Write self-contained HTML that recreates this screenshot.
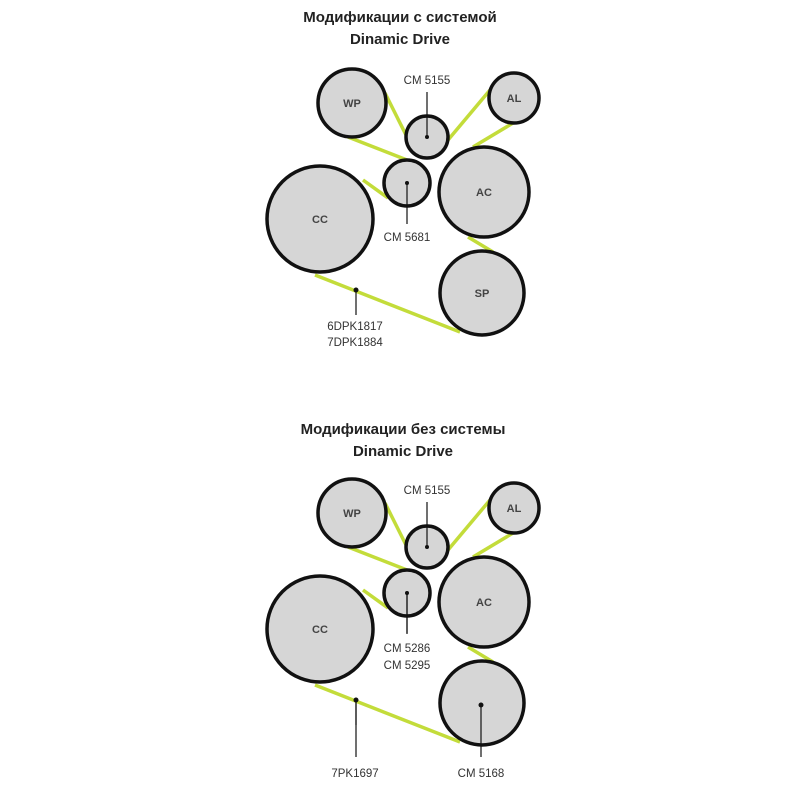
<!DOCTYPE html>
<html><head><meta charset="utf-8"><style>
html,body{margin:0;padding:0;background:#fff;}
svg{display:block;}
text{font-family:"Liberation Sans",sans-serif;fill:#333;}
.t{font-weight:bold;font-size:15px;fill:#222;}
.n{font-size:11px;font-weight:bold;fill:#444;}
.l{font-size:11.5px;fill:#333;}
.b{stroke:#c3dc3a;stroke-width:3.5;}
.c{fill:#d6d6d6;stroke:#111;stroke-width:3.5;}
.k{stroke:#111;stroke-width:1.2;}
</style></head><body>
<svg width="800" height="800" viewBox="0 0 800 800">
<text class="t" x="400" y="22" text-anchor="middle">Модификации с системой</text>
<text class="t" x="400" y="44" text-anchor="middle">Dinamic Drive</text>
<text class="t" x="403" y="434" text-anchor="middle">Модификации без системы</text>
<text class="t" x="403" y="456" text-anchor="middle">Dinamic Drive</text>

<g id="d">
<line class="b" x1="385" y1="93" x2="407" y2="137"/>
<line class="b" x1="348" y1="137" x2="407" y2="160"/>
<line class="b" x1="363" y1="180" x2="388" y2="198"/>
<line class="b" x1="448" y1="140" x2="490" y2="90"/>
<line class="b" x1="513" y1="123" x2="473" y2="147"/>
<line class="b" x1="468" y1="237" x2="493" y2="252"/>
<line class="b" x1="315" y1="275" x2="460" y2="332"/>
<circle class="c" cx="352" cy="103" r="34"/>
<circle class="c" cx="427" cy="137" r="21"/>
<circle class="c" cx="514" cy="98" r="25"/>
<circle class="c" cx="407" cy="183" r="23"/>
<circle class="c" cx="484" cy="192" r="45"/>
<circle class="c" cx="320" cy="219" r="53"/>
<circle class="c" cx="482" cy="293" r="42"/>
<text class="n" x="352" y="107" text-anchor="middle">WP</text>
<text class="n" x="514" y="102" text-anchor="middle">AL</text>
<text class="n" x="484" y="196" text-anchor="middle">AC</text>
<text class="n" x="320" y="223" text-anchor="middle">CC</text>
<text class="l" x="427" y="84" text-anchor="middle">CM 5155</text>
<line class="k" x1="427" y1="92" x2="427" y2="137"/><circle cx="427" cy="137" r="2" fill="#111"/>
<line class="k" x1="407" y1="183" x2="407" y2="224"/><circle cx="407" cy="183" r="2" fill="#111"/>
<line class="k" x1="356" y1="290" x2="356" y2="315"/><circle cx="356" cy="290" r="2.5" fill="#111"/>
</g>
<text class="n" x="482" y="297" text-anchor="middle">SP</text>
<text class="l" x="407" y="241" text-anchor="middle">CM 5681</text>
<text class="l" x="355" y="330" text-anchor="middle">6DPK1817</text>
<text class="l" x="355" y="346" text-anchor="middle">7DPK1884</text>

<use href="#d" transform="translate(0,410)"/>
<line class="k" x1="407" y1="593" x2="407" y2="633"/>
<line class="k" x1="356" y1="700" x2="356" y2="757"/>
<line class="k" x1="481" y1="705" x2="481" y2="757"/><circle cx="481" cy="705" r="2.5" fill="#111"/>
<text class="l" x="407" y="652" text-anchor="middle">CM 5286</text>
<text class="l" x="407" y="669" text-anchor="middle">CM 5295</text>
<text class="l" x="355" y="777" text-anchor="middle">7PK1697</text>
<text class="l" x="481" y="777" text-anchor="middle">CM 5168</text>
</svg>
</body></html>
